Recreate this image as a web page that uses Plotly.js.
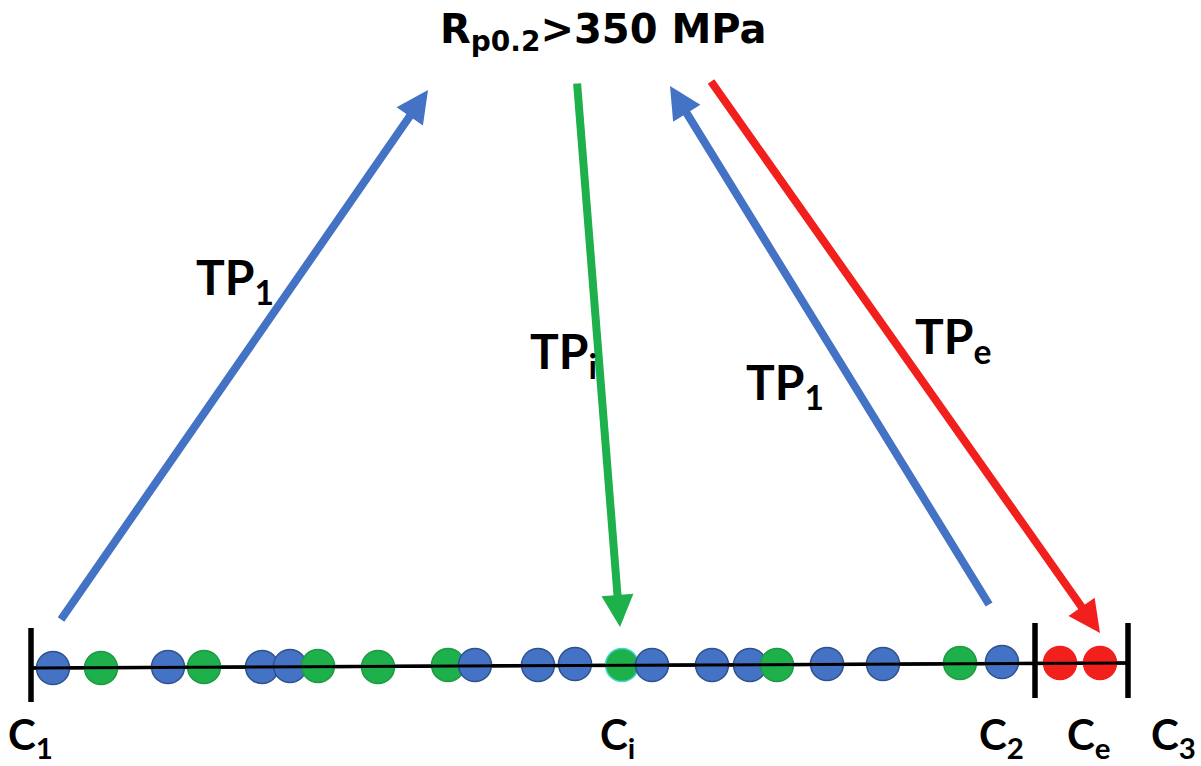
<!DOCTYPE html>
<html>
<head>
<meta charset="utf-8">
<script src="https://cdn.plot.ly/plotly-3.0.1.min.js"></script>
<style>html,body{margin:0;padding:0;background:#fff;}#chart{width:1201px;height:766px;}</style>
</head>
<body>
<div id="chart"></div>
<script>
// ---- data (diagram coordinates, same scale as the picture) ----
var dotX = [53, 101, 168, 204, 262, 290, 318, 378, 448, 475, 538, 575, 622, 652, 712, 750, 777, 827, 883, 960, 1002, 1060, 1100];
var dotY = [668, 668, 667, 667, 667, 666, 666, 667, 665, 665, 665, 664, 665, 665, 665, 665, 665, 664, 664, 663, 662, 663, 663];
var dotKind = ['b','g','b','g','b','b','g','g','g','b','b','b','c','b','b','b','g','b','b','g','b','r','r'];

var baseLineX = [32, 1128];
var baseLineY = [668, 663];

var tickX = [31, 1035, 1128];
var tickTop = [628, 623, 623];
var tickBottom = [702, 698, 698];

var arrowNames = ['blue1', 'green', 'blue2', 'red'];
var arrowTailX = [60, 577, 990, 710];
var arrowTailY = [621, 82, 606, 80];
var arrowHeadX = [428, 620, 670, 1100];
var arrowHeadY = [90, 627, 86, 633];

var labelText = ['TP<sub>1</sub>', 'TP<sub>i</sub>', 'TP<sub>1</sub>', 'TP<sub>e</sub>',
                 'C<sub>1</sub>', 'C<sub>i</sub>', 'C<sub>2</sub>', 'C<sub>e</sub>', 'C<sub>3</sub>',
                 'R<sub>p0.2</sub>>350 MPa'];
var labelX = [235, 563, 785, 953, 30, 617, 1001, 1089, 1173, 603];
var labelY = [280, 354, 385, 339, 737, 737, 737, 737, 737, 32];

// ---- styles ----
var kindFill = {b: '#4472C4', g: '#1DB04B', c: '#1DB04B', r: '#F2201C'};
var kindEdge = {b: '#2F528F', g: '#1E9A45', c: '#3DD6D0', r: '#F2201C'};
var arrowColor = {blue1: '#4472C4', green: '#1DB04B', blue2: '#4472C4', red: '#F2201C'};
var labelSize = [48, 48, 48, 48, 42, 42, 42, 42, 42, 40];
var labelFont = ['Lato','Lato','Lato','Lato','Lato','Lato','Lato','Lato','Lato','DejaVu Sans'];

var traces = [];
traces.push({x: baseLineX, y: baseLineY, mode: 'lines', line: {color: '#000', width: 3.5}, hoverinfo: 'skip'});
for (var i = 0; i < tickX.length; i++) {
  traces.push({x: [tickX[i], tickX[i]], y: [tickTop[i], tickBottom[i]], mode: 'lines', line: {color: '#000', width: 5.5}, hoverinfo: 'skip'});
}
traces.push({
  x: dotX, y: dotY, mode: 'markers',
  marker: {
    size: 33,
    color: dotKind.map(function (k) { return kindFill[k]; }),
    line: {color: dotKind.map(function (k) { return kindEdge[k]; }), width: 1.5},
    opacity: 1
  },
  hoverinfo: 'skip'
});
traces.push({x: baseLineX, y: baseLineY, mode: 'lines', line: {color: '#000', width: 3}, hoverinfo: 'skip'});

var annotations = [];
for (var a = 0; a < arrowNames.length; a++) {
  annotations.push({
    x: arrowHeadX[a], y: arrowHeadY[a], xref: 'x', yref: 'y',
    ax: arrowTailX[a], ay: arrowTailY[a], axref: 'x', ayref: 'y',
    text: '', showarrow: true, arrowhead: 2, arrowsize: 0.8, arrowwidth: 8,
    arrowcolor: arrowColor[arrowNames[a]], standoff: 0, startstandoff: 0
  });
}
for (var t = 0; t < labelText.length; t++) {
  annotations.push({
    x: labelX[t], y: labelY[t], xref: 'x', yref: 'y', text: labelText[t], showarrow: false,
    xanchor: 'center', yanchor: 'middle', borderpad: 0,
    font: {family: labelFont[t] + ', "Open Sans", sans-serif', size: labelSize[t], color: '#000', weight: 700}
  });
}

var layout = {
  width: 1201, height: 766,
  margin: {l: 0, r: 0, t: 0, b: 0, pad: 0},
  paper_bgcolor: '#fff', plot_bgcolor: '#fff',
  showlegend: false, hovermode: false,
  xaxis: {range: [0, 1201], visible: false, fixedrange: true},
  yaxis: {range: [766, 0], visible: false, fixedrange: true},
  annotations: annotations
};
Plotly.newPlot('chart', traces, layout, {staticPlot: true, displayModeBar: false});
</script>
</body>
</html>
